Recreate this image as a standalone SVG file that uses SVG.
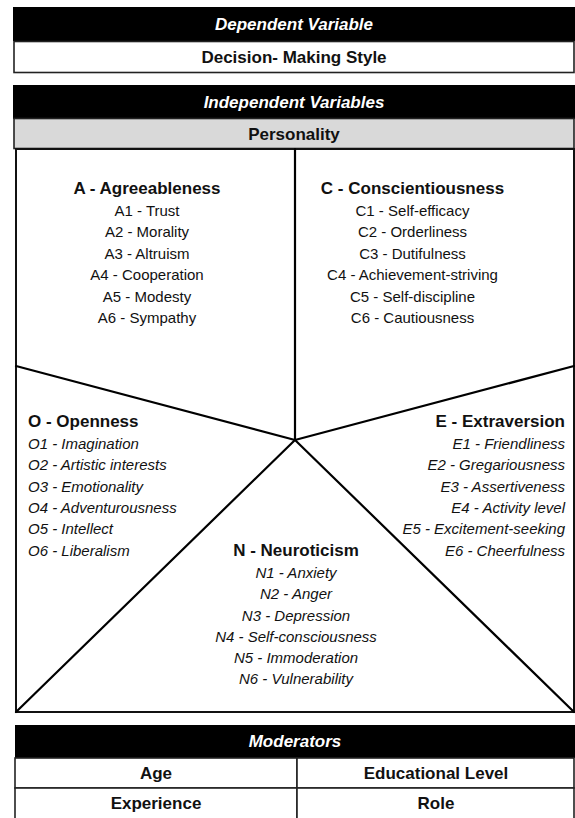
<svg xmlns="http://www.w3.org/2000/svg" width="575" height="818" viewBox="0 0 575 818">
<style>
text{font-family:"Liberation Sans",Arial,sans-serif;fill:#111;}
.hd{font-size:17px;font-weight:bold;font-style:italic;fill:#fff;text-anchor:middle;}
.bx{font-size:17px;font-weight:bold;text-anchor:middle;}
.tt{font-size:17px;font-weight:bold;}
.it{font-size:15px;}
.ii{font-size:15px;font-style:italic;}
.c{text-anchor:middle;}
.e{text-anchor:end;}
.bar{fill:#000;}
.cell{fill:#fff;stroke:#222;stroke-width:1.6;}
.ln{stroke:#000;stroke-width:2.2;fill:none;stroke-linecap:round;}
</style>
<rect width="575" height="818" fill="#fff"/>
<g id="dependent-variable">
<rect class="bar" x="13" y="7" width="562" height="34"/>
<text class="hd" x="294" y="30">Dependent Variable</text>
<rect class="cell" x="14" y="41.5" width="560" height="31"/>
<text class="bx" x="294" y="63">Decision- Making Style</text>
</g>
<g id="independent-variables">
<rect class="bar" x="13" y="85" width="562" height="34"/>
<text class="hd" x="294" y="108">Independent Variables</text>
<rect x="14" y="118.5" width="560" height="30" fill="#d9d9d9" stroke="#222" stroke-width="1.6"/>
<text class="bx" x="294" y="140">Personality</text>
</g>
<g id="connectors">
<rect x="16" y="149" width="558" height="563" fill="none" stroke="#111" stroke-width="2"/>
<line class="ln" x1="295" y1="149" x2="295" y2="440"/>
<line class="ln" x1="16" y1="366" x2="295" y2="440"/>
<line class="ln" x1="574" y1="366" x2="295" y2="440"/>
<line class="ln" x1="16" y1="712" x2="295" y2="440"/>
<line class="ln" x1="574" y1="712" x2="295" y2="440"/>
</g>
<g id="agreeableness" class="c">
<text class="tt c" x="147" y="194">A - Agreeableness</text>
<text class="it c" x="147" y="216">A1 - Trust</text>
<text class="it c" x="147" y="237">A2 - Morality</text>
<text class="it c" x="147" y="259">A3 - Altruism</text>
<text class="it c" x="147" y="280">A4 - Cooperation</text>
<text class="it c" x="147" y="302">A5 - Modesty</text>
<text class="it c" x="147" y="323">A6 - Sympathy</text>
</g>
<g id="conscientiousness">
<text class="tt c" x="412.5" y="194">C - Conscientiousness</text>
<text class="it c" x="412.5" y="216">C1 - Self-efficacy</text>
<text class="it c" x="412.5" y="237">C2 - Orderliness</text>
<text class="it c" x="412.5" y="259">C3 - Dutifulness</text>
<text class="it c" x="412.5" y="280">C4 - Achievement-striving</text>
<text class="it c" x="412.5" y="302">C5 - Self-discipline</text>
<text class="it c" x="412.5" y="323">C6 - Cautiousness</text>
</g>
<g id="openness">
<text class="tt" x="28" y="427">O - Openness</text>
<text class="ii" x="28" y="449">O1 - Imagination</text>
<text class="ii" x="28" y="470">O2 - Artistic interests</text>
<text class="ii" x="28" y="492">O3 - Emotionality</text>
<text class="ii" x="28" y="513">O4 - Adventurousness</text>
<text class="ii" x="28" y="534">O5 - Intellect</text>
<text class="ii" x="28" y="556">O6 - Liberalism</text>
</g>
<g id="extraversion">
<text class="tt e" x="565" y="427">E - Extraversion</text>
<text class="ii e" x="565" y="449">E1 - Friendliness</text>
<text class="ii e" x="565" y="470">E2 - Gregariousness</text>
<text class="ii e" x="565" y="492">E3 - Assertiveness</text>
<text class="ii e" x="565" y="513">E4 - Activity level</text>
<text class="ii e" x="565" y="534">E5 - Excitement-seeking</text>
<text class="ii e" x="565" y="556">E6 - Cheerfulness</text>
</g>
<g id="neuroticism">
<text class="tt c" x="296" y="556">N - Neuroticism</text>
<text class="ii c" x="296" y="578">N1 - Anxiety</text>
<text class="ii c" x="296" y="599">N2 - Anger</text>
<text class="ii c" x="296" y="621">N3 - Depression</text>
<text class="ii c" x="296" y="642">N4 - Self-consciousness</text>
<text class="ii c" x="296" y="663">N5 - Immoderation</text>
<text class="ii c" x="296" y="684">N6 - Vulnerability</text>
</g>
<g id="moderators">
<rect class="bar" x="15" y="725" width="560" height="33"/>
<text class="hd" x="295" y="747">Moderators</text>
<rect class="cell" x="15" y="758" width="282" height="30"/>
<rect class="cell" x="297" y="758" width="277" height="30"/>
<rect class="cell" x="15" y="788" width="282" height="32"/>
<rect class="cell" x="297" y="788" width="277" height="32"/>
<text class="bx" x="156" y="779">Age</text>
<text class="bx" x="436" y="779">Educational Level</text>
<text class="bx" x="156" y="809">Experience</text>
<text class="bx" x="436" y="809">Role</text>
</g>
</svg>
